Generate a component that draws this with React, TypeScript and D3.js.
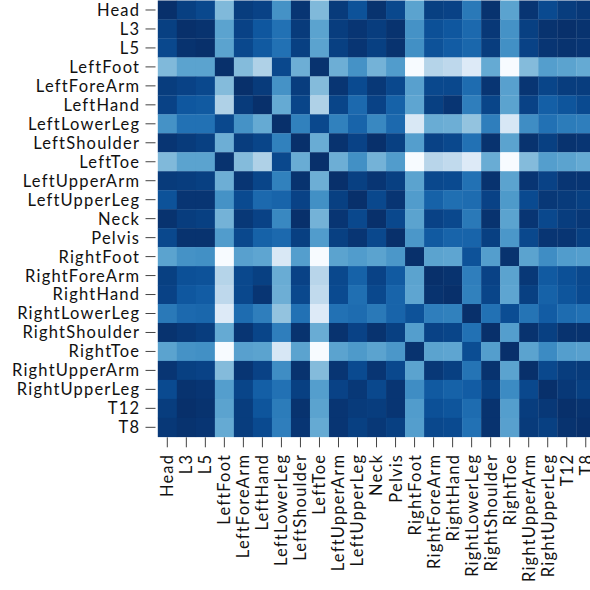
import React from "react";
import * as d3 from "d3";

const names = [
  "Head", "L3", "L5", "LeftFoot", "LeftForeArm", "LeftHand", "LeftLowerLeg",
  "LeftShoulder", "LeftToe", "LeftUpperArm", "LeftUpperLeg", "Neck", "Pelvis",
  "RightFoot", "RightForeArm", "RightHand", "RightLowerLeg", "RightShoulder",
  "RightToe", "RightUpperArm", "RightUpperLeg", "T12", "T8",
];

// lower triangle of the symmetric distance matrix (row i, columns 0..i)
const rowHead = [0];
const rowL3 = [0.06, 0];
const rowL5 = [0.09, 0.01, 0];
const rowLeftFoot = [0.55, 0.45, 0.45, 0];
const rowLeftForeArm = [0.05, 0.07, 0.09, 0.56, 0];
const rowLeftHand = [0.07, 0.15, 0.16, 0.68, 0.04, 0];
const rowLeftLowerLeg = [0.38, 0.25, 0.25, 0.09, 0.38, 0.48, 0];
const rowLeftShoulder = [0.02, 0.04, 0.06, 0.5, 0.05, 0.08, 0.31, 0];
const rowLeftToe = [0.55, 0.45, 0.45, 0.01, 0.56, 0.68, 0.09, 0.49, 0];
const rowLeftUpperArm = [0.04, 0.05, 0.06, 0.5, 0.02, 0.08, 0.31, 0.01, 0.5, 0];
const rowLeftUpperLeg = [0.13, 0.02, 0.02, 0.38, 0.1, 0.22, 0.2, 0.07, 0.37, 0.06, 0];
const rowNeck = [0.01, 0.05, 0.06, 0.52, 0.03, 0.07, 0.34, 0.0, 0.52, 0.02, 0.09, 0];
const rowPelvis = [0.09, 0.01, 0.01, 0.42, 0.09, 0.19, 0.22, 0.06, 0.42, 0.06, 0.02, 0.09, 0];
const rowRightFoot = [0.45, 0.38, 0.37, 1.0, 0.44, 0.46, 0.85, 0.43, 1.0, 0.45, 0.42, 0.45, 0.4, 0];
const rowRightForeArm = [0.06, 0.12, 0.13, 0.7, 0.09, 0.06, 0.49, 0.07, 0.71, 0.09, 0.19, 0.07, 0.16, 0.45, 0];
const rowRightHand = [0.07, 0.15, 0.17, 0.73, 0.09, 0.02, 0.5, 0.09, 0.74, 0.1, 0.24, 0.09, 0.2, 0.46, 0.01, 0];
const rowRightLowerLeg = [0.28, 0.22, 0.21, 0.87, 0.23, 0.3, 0.6, 0.25, 0.87, 0.25, 0.23, 0.28, 0.2, 0.13, 0.3, 0.31, 0];
const rowRightShoulder = [0.01, 0.03, 0.05, 0.48, 0.02, 0.08, 0.3, 0.01, 0.49, 0.01, 0.07, 0.01, 0.06, 0.43, 0.07, 0.08, 0.25, 0];
const rowRightToe = [0.45, 0.38, 0.37, 1.0, 0.44, 0.45, 0.84, 0.45, 1.0, 0.45, 0.41, 0.45, 0.4, 0.01, 0.45, 0.46, 0.11, 0.43, 0];
const rowRightUpperArm = [0.02, 0.06, 0.07, 0.56, 0.02, 0.07, 0.36, 0.01, 0.56, 0.02, 0.1, 0.02, 0.09, 0.45, 0.03, 0.06, 0.26, 0.01, 0.45, 0];
const rowRightUpperLeg = [0.1, 0.01, 0.02, 0.43, 0.08, 0.18, 0.25, 0.06, 0.43, 0.07, 0.03, 0.09, 0.02, 0.36, 0.16, 0.19, 0.17, 0.06, 0.35, 0.09, 0];
const rowT12 = [0.05, 0.0, 0.01, 0.45, 0.05, 0.14, 0.29, 0.01, 0.45, 0.02, 0.04, 0.05, 0.02, 0.42, 0.12, 0.14, 0.23, 0.01, 0.43, 0.05, 0.03, 0];
const rowT8 = [0.03, 0.01, 0.02, 0.48, 0.05, 0.1, 0.3, 0.02, 0.48, 0.02, 0.06, 0.03, 0.06, 0.43, 0.09, 0.1, 0.25, 0.01, 0.44, 0.04, 0.06, 0.01, 0];

const lower = [
  rowHead, rowL3, rowL5, rowLeftFoot, rowLeftForeArm, rowLeftHand, rowLeftLowerLeg,
  rowLeftShoulder, rowLeftToe, rowLeftUpperArm, rowLeftUpperLeg, rowNeck, rowPelvis,
  rowRightFoot, rowRightForeArm, rowRightHand, rowRightLowerLeg, rowRightShoulder,
  rowRightToe, rowRightUpperArm, rowRightUpperLeg, rowT12, rowT8,
];

const W = 590;
const H = 590;
const X0 = 157.8;
const CELL_W = 19.02;
const Y0 = 0.5;
const CELL_H = 18.97;
const FONT = "Lato, 'Noto Sans', sans-serif";
const FS = 16.5;
const LS = 1.2;

export default function App() {
  const n = names.length;
  const x = d3.scaleBand<string>().domain(names).range([X0, X0 + CELL_W * n]).padding(0);
  const y = d3.scaleBand<string>().domain(names).range([Y0, Y0 + CELL_H * n]).padding(0);
  const color = d3.scaleSequential((t: number) => d3.interpolateBlues(1 - t)).domain([0, 1]);
  const value = (i: number, j: number) => (i >= j ? lower[i][j] : lower[j][i]);

  const cells: JSX.Element[] = [];
  names.forEach((rn, i) => {
    names.forEach((cn, j) => {
      cells.push(
        <rect
          key={`${i}-${j}`}
          x={x(cn)}
          y={y(rn)}
          width={x.bandwidth() + 0.3}
          height={y.bandwidth() + 0.3}
          fill={color(value(i, j))}
        />
      );
    });
  });

  const yBottom = Y0 + CELL_H * n;

  return (
    <svg
      width={W}
      height={H}
      style={{ position: "absolute", left: 0, top: 0, background: "#fff" }}
      fontFamily={FONT}
    >
      <g>{cells}</g>
      <g>
        {names.map((nm) => {
          const cy = (y(nm) as number) + y.bandwidth() / 2;
          return (
            <g key={`yl-${nm}`}>
              <line x1={145.5} x2={155.5} y1={cy} y2={cy} stroke="#444" strokeWidth={1} />
              <text
                x={139 + LS}
                y={cy}
                dy="0.36em"
                textAnchor="end"
                fontSize={FS}
                letterSpacing={LS}
                fill="#111"
              >
                {nm}
              </text>
            </g>
          );
        })}
      </g>
      <g>
        {names.map((nm) => {
          const cx = (x(nm) as number) + x.bandwidth() / 2;
          return (
            <g key={`xl-${nm}`}>
              <line x1={cx} x2={cx} y1={yBottom + 0.5} y2={yBottom + 10.5} stroke="#444" strokeWidth={1} />
              <text
                transform={`translate(${cx},${455 - LS}) rotate(-90)`}
                dy="0.36em"
                textAnchor="end"
                fontSize={FS}
                letterSpacing={LS}
                fill="#111"
              >
                {nm}
              </text>
            </g>
          );
        })}
      </g>
    </svg>
  );
}
